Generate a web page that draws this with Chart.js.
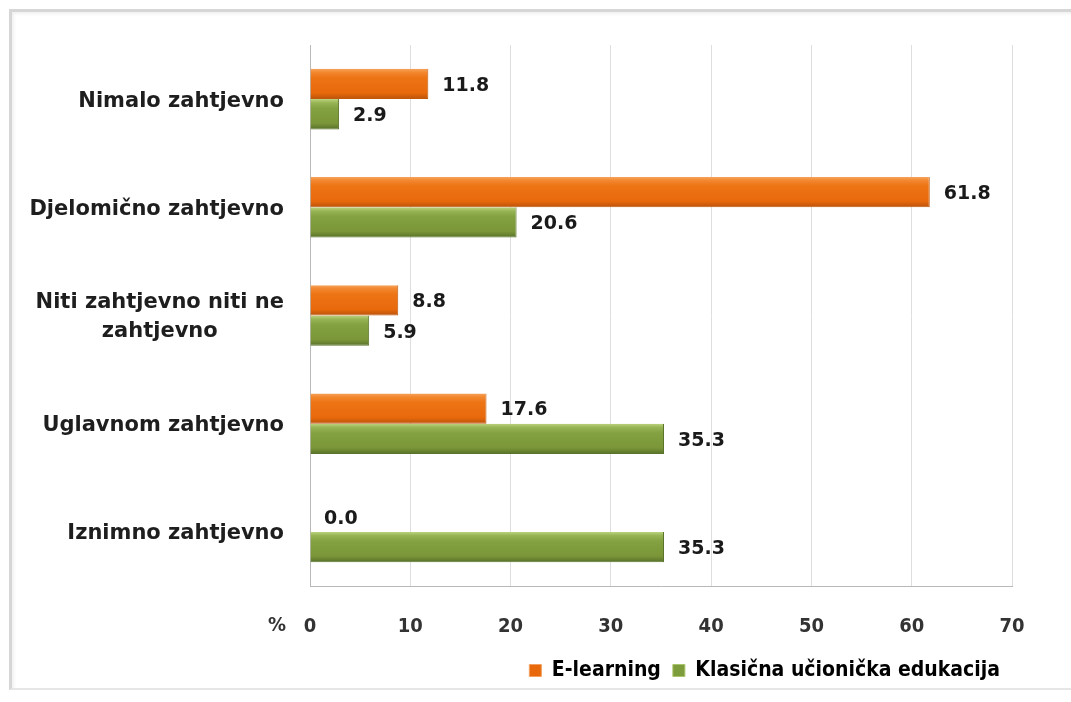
<!DOCTYPE html>
<html>
<head>
<meta charset="utf-8">
<script src="https://cdn.jsdelivr.net/npm/chart.js@4.4.1/dist/chart.umd.min.js"></script>
<style>
  html, body { margin:0; padding:0; background:#fff; }
  #wrap { position:relative; width:1071px; height:702px; overflow:hidden; }
  #frame { position:absolute; left:9px; top:9px; width:1080px; height:676px;
           border-top:3px solid #d6d6d6; border-left:3px solid #d6d6d6; border-bottom:2px solid #e6e6e6;
           box-shadow: inset 2px 2px 3px rgba(0,0,0,0.06); }
  canvas { position:absolute; left:0; top:0; }
</style>
</head>
<body>
<div id="wrap">
  <div id="frame"></div>
  <canvas id="c" width="1071" height="702"></canvas>
</div>
<script>
const categories = [
  ["Nimalo zahtjevno"],
  ["Djelomično zahtjevno"],
  ["Niti zahtjevno niti ne", "zahtjevno"],
  ["Uglavnom zahtjevno"],
  ["Iznimno zahtjevno"]
];
const seriesNames = ["E-learning", "Klasična učionička edukacija"];
const eLearning = [11.8, 61.8, 8.8, 17.6, 0.0];
const klasicna = [2.9, 20.6, 5.9, 35.3, 35.3];
const xTicks = [0, 10, 20, 30, 40, 50, 60, 70];
const axisUnit = "%";

const CAT_PCT = 0.56;
const labelFont = 'bold 21px "DejaVu Sans"';
const valueFont = 'bold 19px "DejaVu Sans"';
const tickFontFamily = '"DejaVu Sans Condensed"';

function barGradient(stops, solid, dsIndex) {
  return (c) => {
    const chart = c.chart;
    const ys = chart.scales && chart.scales.y;
    if (!chart.chartArea || !ys || c.dataIndex === undefined) return solid;
    const y = ys.getPixelForValue(c.dataIndex);
    const cat = Math.abs(ys.getPixelForValue(1) - ys.getPixelForValue(0));
    const th = cat * CAT_PCT / 2;
    const center = y + (dsIndex === 0 ? -0.5 : 0.5) * th;
    const g = chart.ctx.createLinearGradient(0, center - th / 2, 0, center + th / 2);
    stops.forEach(s => g.addColorStop(s[0], s[1]));
    return g;
  };
}

const orangeStops = [[0, '#f7a25a'], [0.12, '#f2872e'], [0.3, '#ed7414'], [0.8, '#e8690c'], [1, '#b9520a']];
const greenStops = [[0, '#bcd37e'], [0.12, '#98b556'], [0.3, '#84a241'], [0.8, '#7a9638'], [1, '#57702a']];

const customText = {
  id: 'customText',
  afterDatasetsDraw(chart) {
    const ctx = chart.ctx;
    ctx.save();
    ctx.font = valueFont;
    ctx.fillStyle = '#1a1a1a';
    ctx.textBaseline = 'middle';
    ctx.textAlign = 'left';
    chart.data.datasets.forEach((ds, di) => {
      const meta = chart.getDatasetMeta(di);
      meta.data.forEach((bar, i) => {
        const v = ds.data[i];
        ctx.fillText(v.toFixed(1), bar.x + 14, bar.y + 2);
      });
    });
    const ys = chart.scales.y;
    ctx.font = labelFont;
    ctx.fillStyle = '#1e1e1e';
    ctx.textAlign = 'center';
    const rightX = 284;
    categories.forEach((lines, i) => {
      const cy = ys.getPixelForValue(i);
      const w = Math.max(...lines.map(l => ctx.measureText(l).width));
      const cx = rightX - w / 2;
      const lh = 29;
      const y0 = cy - (lines.length - 1) * lh / 2 + 2;
      lines.forEach((l, k) => ctx.fillText(l, cx, y0 + k * lh));
    });
    ctx.font = 'bold 20px ' + tickFontFamily;
    ctx.fillStyle = '#333';
    ctx.textAlign = 'center';
    ctx.fillText(axisUnit, 277, 626);
    ctx.restore();
  }
};

new Chart(document.getElementById('c'), {
  type: 'bar',
  data: {
    labels: categories.map(c => c.join(' ')),
    datasets: [
      { label: seriesNames[0], data: eLearning,
        backgroundColor: barGradient(orangeStops, '#ed7414', 0), borderColor: '#c0580b',
        borderWidth: {top:0, bottom:1, right:1, left:0}, borderSkipped: 'left' },
      { label: seriesNames[1], data: klasicna,
        backgroundColor: barGradient(greenStops, '#7d9c3b', 1), borderColor: '#5a742a',
        borderWidth: {top:0, bottom:1, right:1, left:0}, borderSkipped: 'left' }
    ]
  },
  options: {
    indexAxis: 'y',
    responsive: false,
    animation: false,
    devicePixelRatio: 1,
    categoryPercentage: CAT_PCT,
    barPercentage: 1.0,
    layout: { padding: { top: 45, right: 59, bottom: 11, left: 0 } },
    scales: {
      x: {
        min: 0, max: 70,
        afterBuildTicks: (s) => { s.ticks = xTicks.map(v => ({ value: v })); },
        afterFit: (s) => { s.height = 62; },
        grid: { color: '#dedede', drawTicks: false },
        border: { color: '#b8b8b8', width: 1 },
        ticks: { padding: 29, color: '#333', font: { family: tickFontFamily, size: 20, weight: 'bold' } }
      },
      y: {
        afterFit: (s) => { s.width = 310; },
        grid: { display: false, drawTicks: false },
        border: { color: '#b8b8b8', width: 1 },
        ticks: { display: false }
      }
    },
    plugins: {
      legend: {
        position: 'bottom',
        align: 'end',
        labels: {
          boxWidth: 12, boxHeight: 12, padding: 12,
          color: '#333',
          font: { family: tickFontFamily, size: 21, weight: 'bold' },
          generateLabels: (chart) => chart.data.datasets.map((ds, i) => ({
            text: ds.label,
            fillStyle: i === 0 ? '#e8690c' : '#7d9c3b',
            strokeStyle: i === 0 ? '#f3a060' : '#a9c46a',
            lineWidth: 1,
            datasetIndex: i,
            hidden: false
          }))
        }
      },
      tooltip: { enabled: false }
    }
  },
  plugins: [customText]
});
</script>
</body>
</html>
